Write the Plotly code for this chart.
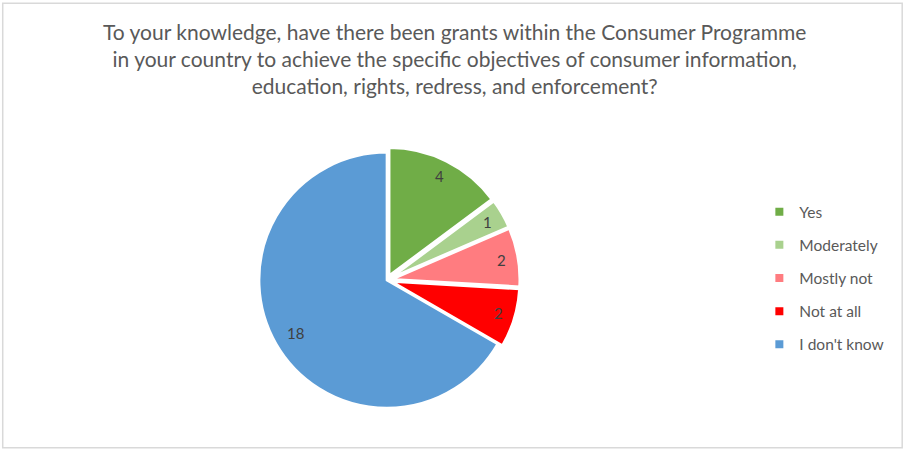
import math
import plotly.graph_objects as go

# Survey answers and counts
labels = ["Yes", "Moderately", "Mostly not", "Not at all", "I don't know"]
counts = [4, 1, 2, 2, 18]
colors = ["#70AD47", "#A9D18E", "#FF7C80", "#FF0000", "#5B9BD5"]
pulls = [0.04, 0.04, 0.04, 0.04, 0.0]

title_text = ("To your knowledge, have there been grants within the Consumer Programme<br>"
              "in your country to achieve the specific objectives of consumer information,<br>"
              "education, rights, redress, and enforcement?")

FONT = "Lato"
GREY = "#595959"
W, H = 904, 450

# Pie placement (paper fractions)
dom_x = [0.281, 0.575]
dom_y = [0.082, 0.673]
max_pull = max(pulls)

fig = go.Figure()

fig.add_trace(go.Pie(
    labels=labels,
    values=counts,
    sort=False,
    direction="clockwise",
    rotation=0,
    pull=pulls,
    marker=dict(colors=colors, line=dict(color="white", width=2.5)),
    textinfo="none",
    showlegend=False,
    domain=dict(x=dom_x, y=dom_y),
    hoverinfo="label+value",
))

# Value labels placed near the outer edge of each slice, along its mid-angle
cx = (dom_x[0] + dom_x[1]) / 2 * W
cy = (dom_y[0] + dom_y[1]) / 2 * H
radius = min((dom_x[1] - dom_x[0]) * W, (dom_y[1] - dom_y[0]) * H) / 2 / (1 + max_pull)
total = sum(counts)
annotations = []
start = 0.0
for val, p in zip(counts, pulls):
    mid = (start + val / 2) / total * 2 * math.pi
    start += val
    rr = radius * (0.87 + p) if p > 0 else radius * 0.83
    px = cx + rr * math.sin(mid)
    py = cy + rr * math.cos(mid)
    annotations.append(dict(
        x=px / W, y=py / H, xref="paper", yref="paper", text=str(val),
        showarrow=False, xanchor="center", yanchor="middle",
        font=dict(family=FONT, size=15, color="#404040"),
    ))

# Legend entries drawn as small square markers
for lab, col in zip(labels, colors):
    fig.add_trace(go.Scatter(
        x=[None], y=[None], mode="markers", name=lab,
        marker=dict(symbol="square", size=8, color=col),
        legendgroup=lab, showlegend=True,
    ))

fig.update_layout(
    width=W, height=H,
    margin=dict(l=0, r=0, t=0, b=0),
    paper_bgcolor="white",
    plot_bgcolor="white",
    xaxis=dict(visible=False),
    yaxis=dict(visible=False),
    title=dict(text=title_text, x=0.503, xanchor="center", y=0.912, yanchor="top",
               font=dict(family=FONT, size=21, color=GREY)),
    legend=dict(x=0.84, xanchor="left", y=0.382, yanchor="middle",
                font=dict(family=FONT, size=15.5, color=GREY),
                tracegroupgap=10, itemwidth=30, bgcolor="rgba(0,0,0,0)"),
    annotations=annotations,
    shapes=[dict(type="rect", xref="paper", yref="paper", x0=0.003, x1=0.998,
                 y0=0.005, y1=0.993, line=dict(color="#D9D9D9", width=1.5))],
)

fig.write_html("out.html")
